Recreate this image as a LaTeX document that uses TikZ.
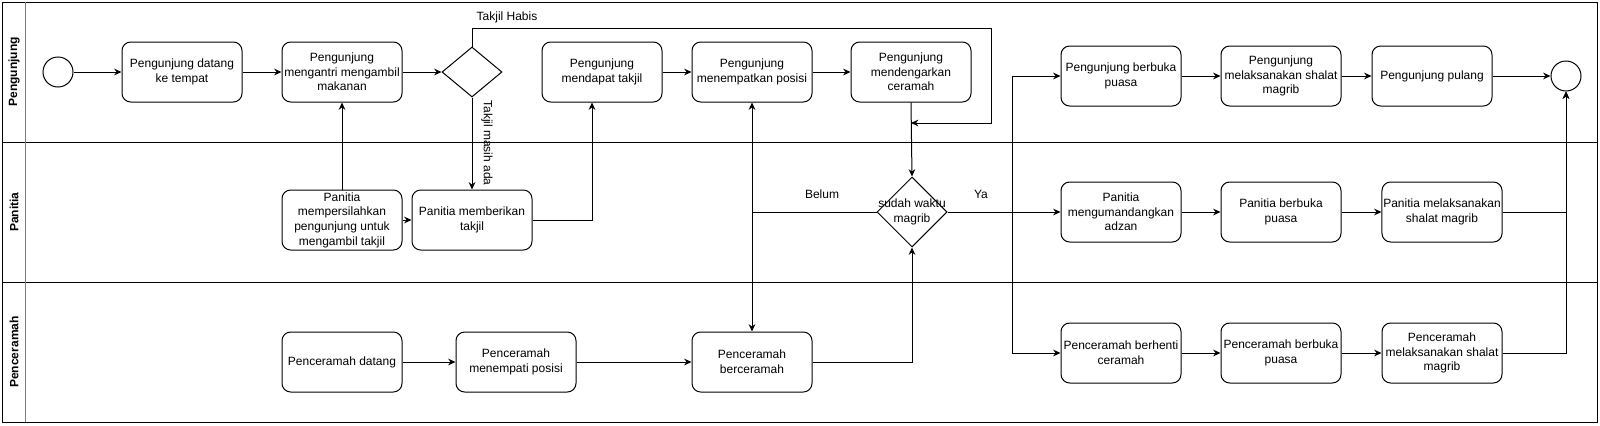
\documentclass[tikz,border=0pt]{standalone}
\usepackage{fontspec}
\setmainfont{Liberation Sans}
\usetikzlibrary{shapes.geometric,arrows.meta,calc}
\begin{document}
\begin{tikzpicture}[x=0.75pt,y=-0.75pt,
  every path/.style={line width=0.75pt},
  box/.style={draw, rounded corners=6.5pt, minimum width=90pt, minimum height=45pt, align=center, inner sep=1pt, font=\fontsize{9}{11}\selectfont},
  gate/.style={draw, diamond, inner sep=0pt},
  ev/.style={draw, circle, minimum size=22.5pt, inner sep=0pt},
  arr/.style={-{Stealth[length=5.5pt,width=5pt]}},
  lbl/.style={font=\fontsize{9}{11}\selectfont, align=center, inner sep=1pt},
  lanetitle/.style={font=\fontsize{9}{11}\selectfont\bfseries, rotate=90}
]
\useasboundingbox (0,0) rectangle (1600,425);
% pool and lanes
\draw (2,2) rectangle (1597,422);
\draw (2,142) -- (1597,142);
\draw (2,282) -- (1597,282);
\draw[gray] (25,2) -- (25,422);
\node[lanetitle] (t1) at (14,72) {Pengunjung};
\node[lanetitle] (t2) at (14,212) {Panitia};
\node[lanetitle] (t3) at (14,352) {Penceramah};

% lane 1
\node[ev] (start) at (58,72) {};
\node[box] (b1) at (182,72) {Pengunjung datang\\ke tempat};
\node[box] (b2) at (342,72) {Pengunjung\\mengantri mengambil\\makanan};
\node[gate, minimum width=45pt, minimum height=37.5pt] (d1) at (472,72) {};
\node[box] (b3) at (602,72) {Pengunjung\\mendapat takjil};
\node[box] (b4) at (752,72) {Pengunjung\\menempatkan posisi};
\node[box] (b5) at (911,72) {Pengunjung\\mendengarkan\\ceramah};
\node[box] (b6) at (1121,76) {Pengunjung berbuka\\puasa};
\node[box] (b7) at (1281,76) {Pengunjung\\melaksanakan shalat\\magrib};
\node[box] (b8) at (1432,76) {Pengunjung pulang};
\node[ev] (end) at (1566,76) {};

% lane 2
\node[box] (p1) at (342,220) {Panitia\\mempersilahkan\\pengunjung untuk\\mengambil takjil};
\node[box] (p2) at (472,220) {Panitia memberikan\\takjil};
\node[gate, minimum width=52.5pt, minimum height=52.5pt,
  label={[lbl]center:sudah waktu\\magrib}] (d2) at (912,212) {};
\node[box] (q1) at (1121,212) {Panitia\\mengumandangkan\\adzan};
\node[box] (q2) at (1281,212) {Panitia berbuka\\puasa};
\node[box] (q3) at (1442,212) {Panitia melaksanakan\\shalat magrib};

% lane 3
\node[box] (c1) at (342,362) {Penceramah datang};
\node[box] (c2) at (516,362) {Penceramah\\menempati posisi};
\node[box] (c3) at (752,362) {Penceramah\\berceramah};
\node[box] (c4) at (1121,353) {Penceramah berhenti\\ceramah};
\node[box] (c5) at (1281,353) {Penceramah berbuka\\puasa};
\node[box] (c6) at (1442,353) {Penceramah\\melaksanakan shalat\\magrib};

% coordinates
\coordinate (hab1) at (472,28);
\coordinate (hab2) at (991,28);
\coordinate (hab3) at (991,123);
\coordinate (hab4) at (911,123);
\coordinate (yj) at (1012,212);
\coordinate (bj) at (752,212);

% connectors lane 1
\draw[arr] (start) -- (b1);
\draw[arr] (b1) -- (b2);
\draw[arr] (b2) -- (d1);
\draw[arr] (d1.north) -- (hab1) -- (hab2) -- (hab3) -- (hab4);
\node[lbl] (lhab) at (507,17) {Takjil Habis};
\draw[arr] (d1.south) -- (p2.north);
\node[lbl, rotate=-90] (lmasih) at (487,143) {Takjil masih ada};
\draw[arr] (b3) -- (b4);
\draw[arr] (b4) -- (b5);
\draw[arr] (b5.south) -- (d2.north);
\draw[arr] (b6) -- (b7);
\draw[arr] (b7) -- (b8);
\draw[arr] (b8) -- (end);

% lane 2
\draw[arr] (p1.north) -- (b2.south);
\draw[arr] (p1) -- (p2);
\draw[arr] (p2.east) -| ([xshift=-7.5pt]b3.south);
\draw (d2.west) -- (bj);
\draw[arr] (bj) -- (b4.south);
\draw[arr] (bj) -- (c3.north);
\node[lbl] (lbelum) at (822,194) {Belum};
\draw[arr] (d2.east) -- (q1.west);
\node[lbl] (lya) at (981,194) {Ya};
\draw[arr] (yj) |- (b6.west);
\draw[arr] (yj) |- (c4.west);
\draw[arr] (q1) -- (q2);
\draw[arr] (q2) -- (q3);
\draw[arr] (q3.east) -| (end.south);

% lane 3
\draw[arr] (c1) -- (c2);
\draw[arr] (c2) -- (c3);
\draw[arr] (c3.east) -| (d2.south);
\draw[arr] (c4) -- (c5);
\draw[arr] (c5) -- (c6);
\draw[arr] (c6.east) -| (end.south);
\end{tikzpicture}
\end{document}
